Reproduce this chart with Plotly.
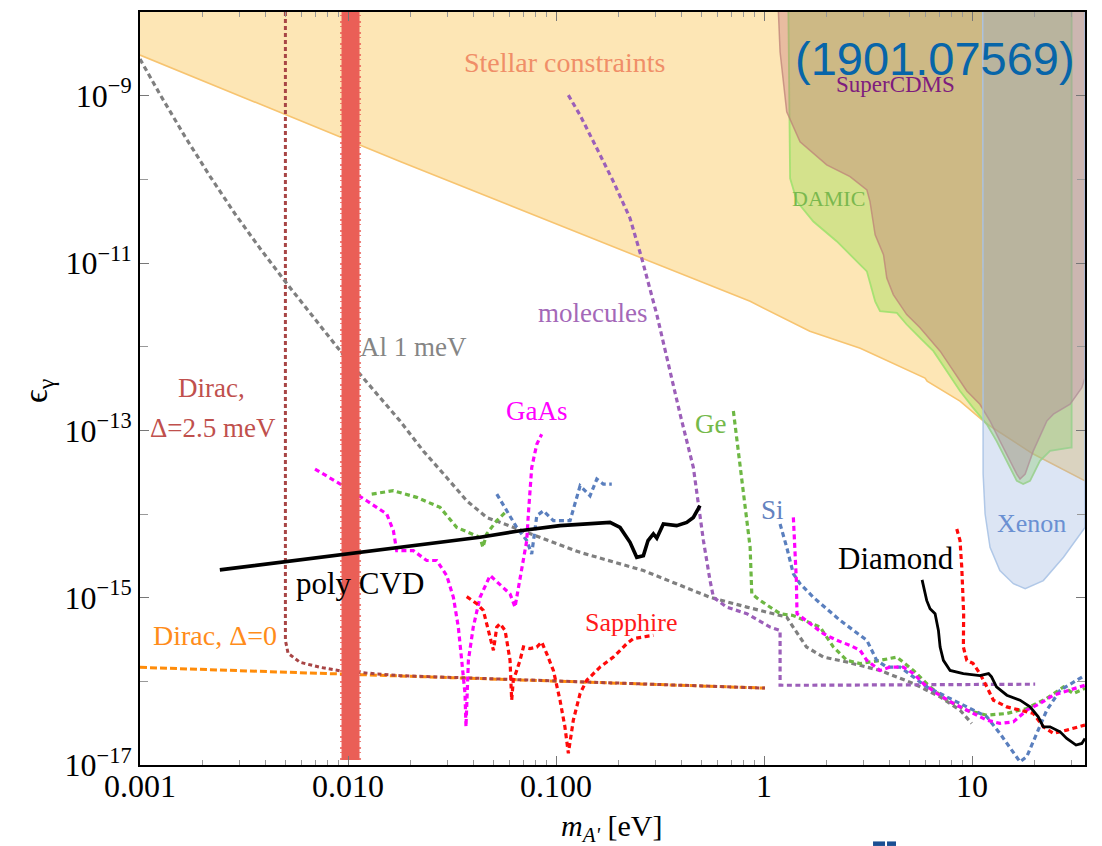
import plotly.graph_objects as go

# ---------------------------------------------------------------- data
# excluded regions (boundaries in m_A' [eV], epsilon)
stellar_m = [0.001, 0.0178, 0.857, 0.957, 1.66, 2.90, 4.51, 5.94, 6.08, 8.75, 11.8, 19.6, 34.9]
stellar_eps = [3.06e-9, 1.63e-10, 3.48e-12, 3.04e-12, 1.53e-12, 9.6e-13, 5.86e-13, 4.22e-13,
               3.88e-13, 2.24e-13, 1.19e-13, 5.24e-14, 2.49e-14]

damic_m = [1.309, 1.33, 1.334, 1.44, 1.726, 2.24, 3.12, 3.42, 3.61, 4.35, 4.85, 5.62, 6.52, 7.55,
           8.75, 10.1, 11.77, 13.1, 14.69, 16.4, 17.6, 19.0, 21.2, 23.7, 29.6, 30.1, 30.1]
damic_eps = [1e-8, 5.33e-10, 1.03e-10, 5.42e-11, 3.13e-11, 1.81e-11, 7.94e-12, 3.48e-12, 2.65e-12,
             2.53e-12, 1.84e-12, 1.27e-12, 8.84e-13, 5.11e-13, 2.95e-13, 1.87e-13, 1.18e-13, 7.48e-14,
             4.32e-14, 2.49e-14, 2.28e-14, 2.49e-14, 4.32e-14, 5.68e-14, 6.22e-14, 6.22e-14, 1e-8]

cdms_m = [1.172, 1.194, 1.285, 1.489, 2.0, 2.59, 3.12, 3.23, 3.42, 3.75, 3.89, 4.18, 4.85, 5.62, 7.02,
          8.13, 9.43, 10.9, 12.2, 13.6, 15.2, 16.4, 17.0, 18.0, 19.7, 22.86, 24.6, 29.6, 33.7, 34.9, 34.9]
cdms_eps = [1e-8, 3.33e-9, 6.41e-10, 2.81e-10, 1.49e-10, 1.08e-10, 7.48e-11, 5.42e-11, 2.17e-11,
            1.26e-11, 6.61e-12, 4.19e-12, 2.42e-12, 1.68e-12, 8.84e-13, 5.11e-13, 2.95e-13, 2.05e-13,
            1.29e-13, 7.48e-14, 4.32e-14, 3.0e-14, 2.61e-14, 3.0e-14, 5.68e-14, 1.29e-13, 1.56e-13,
            2.05e-13, 3.23e-13, 4.25e-13, 1e-8]

xenon_m = [11.25, 11.3, 11.55, 12.2, 13.6, 15.8, 18.0, 22.0, 27.5, 33.1, 34.9, 34.9]
xenon_eps = [1e-8, 3.0e-14, 1.0e-14, 4.0e-15, 2.11e-15, 1.47e-15, 1.28e-15, 1.60e-15, 3.04e-15,
             5.78e-15, 6.92e-15, 1e-8]

# projected reach curves
al_m = [0.001, 0.001248, 0.001646, 0.00217, 0.00286, 0.00378, 0.00498, 0.00933, 0.0178, 0.0230,
        0.0298, 0.0372, 0.0464, 0.0623, 0.0902, 0.1305, 0.263, 0.380, 0.550, 0.826, 1.285, 1.38,
        1.60, 1.93, 2.50, 3.61, 5.22, 7.02, 8.75, 9.96]
al_eps = [2.74e-9, 1.035e-9, 3.24e-10, 1.087e-10, 3.88e-11, 1.49e-11, 6.04e-12, 8.43e-13, 1.29e-13,
          5.67e-14, 2.73e-14, 1.44e-14, 9.10e-15, 6.92e-15, 4.81e-15, 3.48e-15, 2.11e-15, 1.47e-15,
          1.01e-15, 7.71e-16, 5.86e-16, 4.45e-16, 2.57e-16, 1.95e-16, 1.70e-16, 1.35e-16, 9.42e-17,
          6.52e-17, 4.52e-17, 3.14e-17]

mol_m = [0.1146, 0.1304, 0.157, 0.1886, 0.2268, 0.2582, 0.305, 0.3405, 0.3948, 0.4573, 0.511, 0.550,
         0.571, 0.662, 0.826, 1.069, 1.194, 1.194, 1.664, 20.1]
mol_eps = [1.014e-9, 5.86e-10, 2.35e-10, 9.40e-11, 3.43e-11, 1.14e-11, 2.42e-12, 7.36e-13, 1.56e-13,
           3.59e-14, 4.81e-15, 1.60e-15, 1.01e-15, 7.71e-16, 6.43e-16, 4.45e-16, 4.06e-16, 8.98e-17,
           8.98e-17, 9.24e-17]

ge_low_m = [0.0130, 0.01652, 0.0214, 0.0277, 0.0333, 0.0400, 0.0431, 0.0445, 0.0464, 0.0519, 0.058]
ge_low_eps = [1.73e-14, 1.90e-14, 1.58e-14, 1.20e-14, 6.92e-15, 5.78e-15, 5.26e-15, 4.0e-15,
              5.78e-15, 8.32e-15, 1.09e-14]
ge_high_m = [0.712, 0.767, 0.810, 0.857, 0.873, 0.957, 1.194, 1.378, 1.858, 2.155, 2.50, 2.894, 3.61,
             4.35, 5.22, 6.28, 7.55, 9.43, 11.77, 14.69, 18.32, 22.86, 27.5, 30.7, 34.9]
ge_high_eps = [1.70e-13, 3.94e-14, 1.44e-14, 4.0e-15, 1.11e-15, 9.27e-16, 6.43e-16, 6.13e-16,
               4.45e-16, 2.57e-16, 1.78e-16, 1.63e-16, 1.78e-16, 1.95e-16, 1.35e-16, 8.58e-17,
               5.95e-17, 4.52e-17, 3.94e-17, 4.13e-17, 4.74e-17, 6.24e-17, 8.58e-17, 7.15e-17, 8.28e-17]

si_low_m = [0.0519, 0.058, 0.0647, 0.0723, 0.0764, 0.0808, 0.0869, 0.0971, 0.1168, 0.1305, 0.1457,
            0.157, 0.1688, 0.1853]
si_low_eps = [1.73e-14, 1.09e-14, 6.92e-15, 4.81e-15, 3.33e-15, 9.54e-15, 1.09e-14, 8.32e-15,
              8.32e-15, 2.17e-14, 1.65e-14, 2.61e-14, 2.28e-14, 2.28e-14]
si_high_m = [1.194, 1.285, 1.383, 1.489, 1.726, 2.32, 3.12, 3.48, 3.89, 4.51, 5.22, 6.05, 7.55, 9.43,
             11.77, 13.6, 15.8, 17.0, 18.32, 20.5, 22.86, 26.5, 30.7, 34.9]
si_high_eps = [7.60e-15, 4.0e-15, 1.93e-15, 1.47e-15, 1.01e-15, 5.35e-16, 3.09e-16, 1.78e-16,
               1.48e-16, 1.48e-16, 1.13e-16, 8.58e-17, 6.52e-17, 4.95e-17, 3.77e-17, 2.39e-17,
               1.38e-17, 1.09e-17, 1.26e-17, 2.39e-17, 4.52e-17, 7.83e-17, 9.84e-17, 1.18e-16]

gaas_low_m = [0.00694, 0.00949, 0.0123, 0.01535, 0.01652, 0.01714, 0.0206, 0.0239, 0.0267, 0.0298,
              0.0321, 0.0339, 0.0352, 0.0365, 0.0369, 0.0379, 0.0400, 0.0431, 0.0482, 0.0558, 0.0601,
              0.0635, 0.0659, 0.0684, 0.0723, 0.0736, 0.0764, 0.0808, 0.0853]
gaas_low_eps = [3.44e-14, 2.17e-14, 1.44e-14, 1.0e-14, 6.32e-15, 3.65e-15, 3.65e-15, 2.78e-15,
                2.78e-15, 1.84e-15, 1.01e-15, 4.45e-16, 1.78e-16, 7.15e-17, 2.86e-17, 1.78e-16,
                4.45e-16, 1.01e-15, 1.84e-15, 1.33e-15, 1.11e-15, 7.71e-16, 1.33e-15, 2.42e-15,
                4.81e-15, 1.0e-14, 3.59e-14, 6.83e-14, 8.98e-14]
gaas_high_m = [1.383, 1.409, 1.43, 1.44, 1.664, 1.93, 2.24, 2.59, 2.894, 3.12, 3.61, 4.03, 4.67, 5.22,
               5.83, 6.77, 8.13, 10.1, 11.77, 13.6, 15.8, 18.32, 21.2, 24.6, 29.6, 34.9]
gaas_high_eps = [9.10e-15, 4.0e-15, 1.60e-15, 6.43e-16, 4.89e-16, 3.71e-16, 3.09e-16, 2.69e-16,
                 2.35e-16, 1.78e-16, 1.35e-16, 1.48e-16, 1.48e-16, 1.24e-16, 9.42e-17, 7.15e-17,
                 5.44e-17, 4.13e-17, 3.44e-17, 3.14e-17, 3.28e-17, 4.52e-17, 5.44e-17, 6.83e-17,
                 7.83e-17, 8.98e-17]

sapph_low_m = [0.0372, 0.0416, 0.0447, 0.0482, 0.0500, 0.0519, 0.0538, 0.0569, 0.0601, 0.0612, 0.0623,
               0.0647, 0.0671, 0.0697, 0.0749, 0.0808, 0.0853, 0.0902, 0.0971, 0.1045, 0.1103, 0.1146,
               0.1211, 0.1305, 0.1405, 0.1627, 0.1886, 0.2188, 0.2353, 0.2730, 0.2937]
sapph_low_eps = [1.03e-15, 8.46e-16, 7.04e-16, 3.38e-16, 2.35e-16, 4.45e-16, 4.89e-16, 4.06e-16,
                 1.78e-16, 5.95e-17, 1.03e-16, 1.35e-16, 1.78e-16, 2.57e-16, 2.46e-16, 2.57e-16,
                 2.95e-16, 2.14e-16, 1.35e-16, 5.95e-17, 2.86e-17, 1.38e-17, 3.44e-17, 7.15e-17,
                 1.03e-16, 1.48e-16, 1.95e-16, 2.82e-16, 3.24e-16, 3.45e-16, 3.54e-16]
sapph_high_m = [8.44, 8.75, 8.92, 9.11, 9.08, 9.43, 10.1, 10.9, 11.77, 12.66, 14.69, 17.0, 19.7, 22.0,
                24.6, 28.5, 34.9]
sapph_high_eps = [6.62e-15, 4.81e-15, 2.31e-15, 6.43e-16, 2.57e-16, 1.78e-16, 1.64e-16, 1.24e-16,
                  8.58e-17, 5.95e-17, 4.95e-17, 4.52e-17, 4.13e-17, 2.86e-17, 2.39e-17, 2.61e-17, 3.0e-17]

cvd_m = [0.00242, 0.00471, 0.00986, 0.0206, 0.0431, 0.0671, 0.1045, 0.1818, 0.2031, 0.2268, 0.2443,
         0.263, 0.2768, 0.2937, 0.305, 0.328, 0.380, 0.425, 0.457, 0.492]
cvd_eps = [2.15e-15, 2.65e-15, 3.33e-15, 4.19e-15, 5.26e-15, 6.32e-15, 7.26e-15, 7.94e-15, 6.92e-15,
           4.59e-15, 3.04e-15, 3.18e-15, 4.81e-15, 5.78e-15, 5.15e-15, 7.60e-15, 7.26e-15, 7.94e-15,
           9.10e-15, 1.26e-14]

diamond_m = [5.75, 6.05, 6.28, 6.64, 6.89, 7.02, 7.28, 7.84, 9.08, 10.9, 12.0, 12.4, 13.1, 14.69, 17.0,
             19.0, 20.8, 22.0, 23.7, 26.5, 28.5, 31.6, 33.7, 34.9]
diamond_eps = [1.63e-15, 9.27e-16, 7.38e-16, 6.43e-16, 4.06e-16, 2.57e-16, 1.78e-16, 1.35e-16,
               1.24e-16, 1.17e-16, 1.24e-16, 1.13e-16, 8.58e-17, 6.83e-17, 5.95e-17, 4.95e-17,
               3.77e-17, 2.86e-17, 2.86e-17, 2.49e-17, 2.08e-17, 1.73e-17, 1.81e-17, 2.08e-17]

dirac0_m = [0.001, 1.01]
dirac0_eps = [1.47e-16, 8.3e-17]
dirac25_m = [0.005, 0.005, 0.00515, 0.00588, 0.00734, 0.00946, 0.0178, 1.01]
dirac25_eps = [1e-8, 3.09e-16, 2.16e-16, 1.69e-16, 1.47e-16, 1.32e-16, 1.17e-16, 8.3e-17]

band_m = [0.01028, 0.01028]
band_eps = [1.15e-17, 1e-8]

# axis ticks
x_tick_vals = [0.001, 0.01, 0.1, 1, 10]
x_tick_text = ["0.001", "0.010", "0.100", "1", "10"]
y_tick_vals = [1e-17, 1e-15, 1e-13, 1e-11, 1e-9]
y_tick_text = ["10<sup>\u221217</sup>", "10<sup>\u221215</sup>", "10<sup>\u221213</sup>",
               "10<sup>\u221211</sup>", "10<sup>\u22129</sup>"]
y_minor_vals = [1e-16, 1e-14, 1e-12, 1e-10, 1e-8]

X_LO, X_HI = 0.001, 34.9
Y_TOP = 1e-8

SERIF = "Liberation Serif"
DOTS = "5px,3.5px"

fig = go.Figure()


def area(x, y, fill, edge, width):
    fig.add_trace(go.Scatter(x=x, y=y, mode="lines", fill="toself", fillcolor=fill,
                             line=dict(color=edge, width=width), hoverinfo="skip", showlegend=False))


def curve(x, y, color, width=3.2, dash=DOTS):
    fig.add_trace(go.Scatter(x=x, y=y, mode="lines", line=dict(color=color, width=width, dash=dash),
                             hoverinfo="skip", showlegend=False))


# shaded exclusion regions
area(stellar_m + [X_HI, X_LO], stellar_eps + [Y_TOP * 2, Y_TOP * 2], "rgba(251,205,107,0.5)",
     "rgba(0,0,0,0)", 0)
curve(stellar_m, stellar_eps, "#F7C470", width=1.6, dash="solid")
area(damic_m, damic_eps, "rgba(150,220,80,0.4)", "rgba(160,225,110,0.9)", 1.8)
area(cdms_m, cdms_eps, "rgba(193,110,121,0.35)", "rgba(190,130,120,0.75)", 1.5)
area(xenon_m, xenon_eps, "rgba(140,170,220,0.3)", "rgba(170,195,230,0.9)", 1.5)

# dotted projections
curve(dirac0_m, dirac0_eps, "#FF8C0A", width=3, dash="7px,3px")
curve(dirac25_m, dirac25_eps, "#A84545", width=3, dash="4px,3px")
curve(al_m, al_eps, "#7F7F7F")
curve(mol_m, mol_eps, "#9C5FB9")
curve(ge_low_m, ge_low_eps, "#6DB743")
curve(ge_high_m, ge_high_eps, "#6DB743")
curve(si_low_m, si_low_eps, "#5A7FBE")
curve(si_high_m, si_high_eps, "#5A7FBE")
curve(gaas_low_m, gaas_low_eps, "#FF00FF")
curve(gaas_high_m, gaas_high_eps, "#FF00FF")
curve(sapph_low_m, sapph_low_eps, "#FF0A0A")
curve(sapph_high_m, sapph_high_eps, "#FF0A0A")

# thick band at 10 meV, with a ragged outer edge
curve(band_m, band_eps, "#EA5F57", width=18, dash="solid")
curve(band_m, band_eps, "rgba(234,95,87,0.8)", width=21, dash="2px,5px,1px,3px")

# solid reach curves
curve(cvd_m, cvd_eps, "black", width=3.6, dash="solid")
curve(diamond_m, diamond_eps, "black", width=2.8, dash="solid")


def label(text, xp, yp, color, size, family=SERIF, angle=0):
    fig.add_annotation(text=text, x=xp, y=yp, xref="paper", yref="paper", showarrow=False,
                       xanchor="center", yanchor="middle", textangle=angle, borderpad=0,
                       font=dict(family=family, size=size, color=color))


label("Stellar constraints", 0.4487, 0.9325, "#F08E68", 28)
label("(1901.07569)", 0.8413, 0.9377, "#0765A9", 47, family="Liberation Sans")
label("SuperCDMS", 0.799, 0.9033, "#7E1C7E", 23)
label("DAMIC", 0.729, 0.7523, "#7AB84E", 22)
label("Xenon", 0.9439, 0.3205, "#6A90D2", 26)
label("Diamond", 0.7995, 0.2742, "black", 31)
label("Si", 0.6698, 0.339, "#6382BF", 27)
label("Ge", 0.6042, 0.453, "#74B94A", 27)
label("GaAs", 0.4198, 0.4702, "#FF00FF", 27)
label("molecules", 0.4788, 0.6004, "#A468B8", 27)
label("Al 1 meV", 0.2889, 0.555, "#858585", 27)
label("Dirac,", 0.0759, 0.501, "#C0504D", 27)
label("\u0394=2.5 meV", 0.0776, 0.448, "#C0504D", 27)
label("poly CVD", 0.2328, 0.2407, "black", 31)
label("Dirac, \u0394=0", 0.0794, 0.1722, "#FF8C1A", 28)
label("Sapphire", 0.5194, 0.1898, "#FF1A1A", 26)

# axis titles
label("<i>m</i><sub><i>A'</i></sub> [eV]", 0.4992, -0.0835, "black", 30)
label("\u03f5<sub>\u03b3</sub>", -0.108, 0.4967, "black", 34, angle=-90)

# small marks below the frame
for x0, x1 in [(0.7757, 0.7884), (0.7905, 0.8)]:
    fig.add_shape(type="rect", xref="paper", yref="paper", x0=x0, x1=x1, y0=-0.1075, y1=-0.1015,
                  fillcolor="#1B4F93", line=dict(width=0))

x_minor = [m * 10 ** e for e in range(-3, 2) for m in range(2, 10)]

fig.update_layout(
    width=1102, height=846,
    margin=dict(l=140, r=17, t=10, b=81),
    paper_bgcolor="white", plot_bgcolor="white",
    showlegend=False,
    xaxis=dict(type="log", range=[-3, 1.5428], tickmode="array", tickvals=x_tick_vals,
               ticktext=x_tick_text, ticks="inside", ticklen=9, tickwidth=1, tickcolor="#777",
               ticklabelstandoff=-8,
               showline=True, linecolor="black", linewidth=2, mirror="allticks", showgrid=False,
               zeroline=False, tickfont=dict(family=SERIF, size=32, color="black"),
               minor=dict(tickmode="array", tickvals=x_minor, ticks="inside", ticklen=5,
                          tickwidth=1, tickcolor="#999", showgrid=False)),
    yaxis=dict(type="log", range=[-17, -8], tickmode="array", tickvals=y_tick_vals,
               ticktext=y_tick_text, ticks="inside", ticklen=9, tickwidth=1, tickcolor="#777",
               showline=True, linecolor="black", linewidth=2, mirror="allticks", showgrid=False,
               zeroline=False, tickfont=dict(family=SERIF, size=32, color="black"),
               minor=dict(tickmode="array", tickvals=y_minor_vals, ticks="inside", ticklen=8,
                          tickwidth=1, tickcolor="#999", showgrid=False)),
)

fig.write_html("out.html")
